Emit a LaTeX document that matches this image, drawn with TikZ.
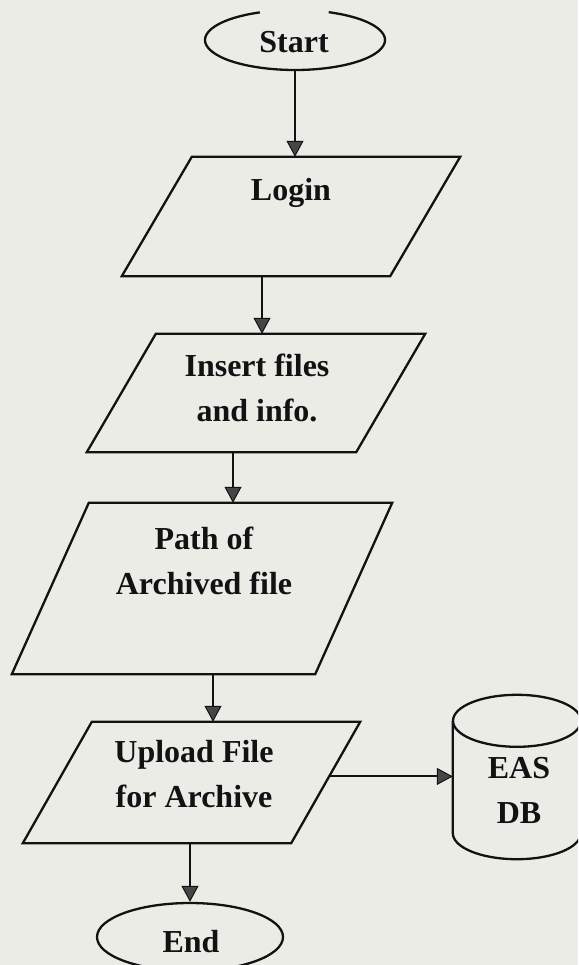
\documentclass[tikz,border=0pt]{standalone}
\usepackage{fontspec}
\setmainfont{Liberation Serif}
\usetikzlibrary{shapes.geometric,arrows.meta,calc}
\definecolor{paper}{RGB}{236,236,231}
\definecolor{ink}{RGB}{18,18,18}
\definecolor{tipfill}{RGB}{70,70,70}
% outline of a slanted input/output box spanning the extent of node #1, slant #2
\newcommand\ioshape[2]{\draw[flow] ($(#1.north west)+(#2,0)$) -- (#1.north east)
  -- ($(#1.south east)-(#2,0)$) -- (#1.south west) -- cycle;}
\begin{document}
\begin{tikzpicture}[x=1pt,y=-1pt,
  flow/.style={draw=ink, line width=2.3pt, line join=miter},
  io/.style={rectangle, inner sep=0pt},
  lbl/.style={text=ink, font=\fontsize{32}{45}\selectfont\bfseries, align=center, inner sep=0pt},
  arr/.style={draw=ink, line width=2pt, -{Triangle[length=16pt,width=17pt,fill=tipfill,line width=1pt]}}]
\useasboundingbox (0,0) rectangle (578,965);
\clip (0,0) rectangle (578,965);
\fill[paper] (0,0) rectangle (578,965);

% terminator: start (outline open at the top)
\node[ellipse, minimum width=180pt, minimum height=60pt, inner sep=0pt] (start) at (295,40) {};
\draw[flow] (start.center) ++(113:90pt and 30pt) arc[start angle=113, end angle=428, x radius=90pt, y radius=30pt];
\node[lbl, anchor=base] (start-t) at (294,53) {Start};

% input / output steps
\node[io, minimum width=338pt, minimum height=119pt] (login) at (291,216.5) {};
\ioshape{login}{70}
\node[lbl, anchor=base] (login-t) at (291,201) {Login};

\node[io, minimum width=338pt, minimum height=118pt] (insert) at (256,393) {};
\ioshape{insert}{69}
\node[lbl] (insert-t) at (257,387.5) {Insert files\\and info.};

\node[io, minimum width=380pt, minimum height=171pt] (archpath) at (202,588.5) {};
\ioshape{archpath}{77}
\node[lbl] (archpath-t) at (204,560.5) {Path of\\Archived file};

\node[io, minimum width=337pt, minimum height=121pt] (upload) at (191.5,782.5) {};
\ioshape{upload}{69}
\node[lbl] (upload-t) at (194,774) {Upload File\\for Archive};
\coordinate (upload-out) at ($(upload.north east)!0.45!($(upload.south east)-(69,0)$)$);

% database cylinder
\node[minimum width=128pt, minimum height=164pt, inner sep=0pt] (db) at (517,777) {};
\draw[flow] ($(db.north)+(0,26)$) ellipse [x radius=64pt, y radius=26pt];
\draw[flow] ($(db.north west)+(0,26)$) -- ($(db.south west)+(0,-26)$)
  arc[start angle=180, end angle=360, x radius=64pt, y radius=26pt]
  -- ($(db.north east)+(0,26)$);
\node[lbl] (db-t) at (519,790.5) {EAS\\DB};

% terminator: end
\node[flow, ellipse, minimum width=186pt, minimum height=68pt, inner sep=0pt] (end) at (190,937) {};
\node[lbl, anchor=base] (end-t) at (191,952) {End};

% connectors
\draw[arr] (start.south) -- (start.south |- login.north);
\draw[arr] ([xshift=-29pt]login.south) -- ([xshift=-29pt]login.south |- insert.north);
\draw[arr] ([xshift=-23pt]insert.south) -- ([xshift=-23pt]insert.south |- archpath.north);
\draw[arr] ([xshift=11pt]archpath.south) -- ([xshift=11pt]archpath.south |- upload.north);
\draw[arr] (upload.south -| end.north) -- (end.north);
\draw[arr] (upload-out) -- (upload-out -| db.west);
\end{tikzpicture}
\end{document}
